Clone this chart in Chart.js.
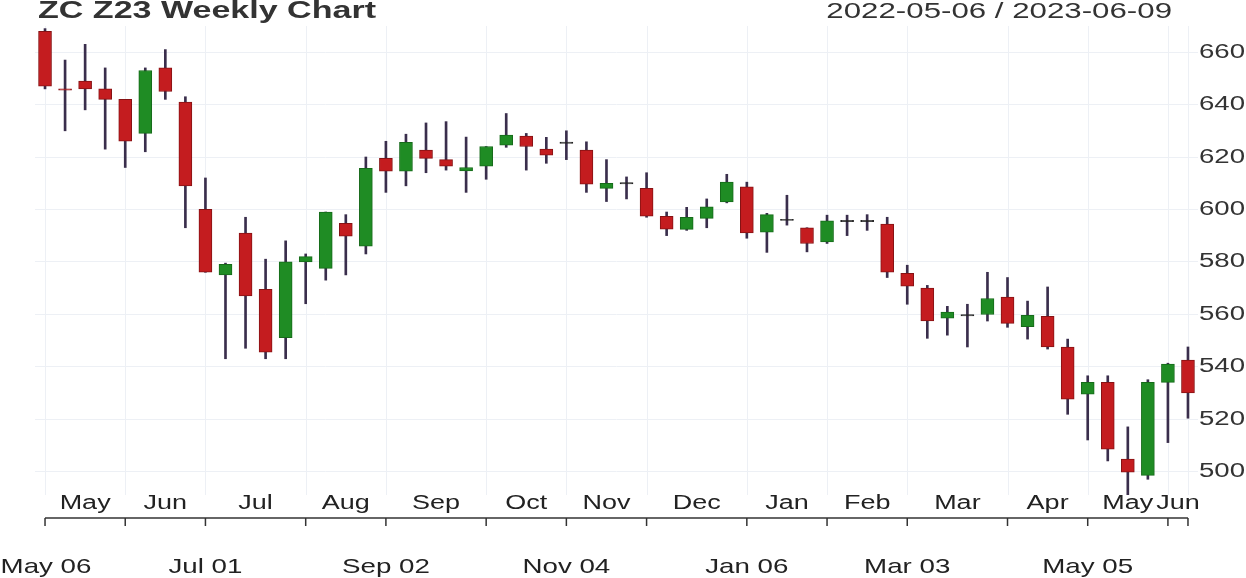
<!DOCTYPE html>
<html><head><meta charset="utf-8">
<script src="https://cdn.jsdelivr.net/npm/chart.js@4"></script>
<style>html,body{margin:0;padding:0;background:#fff}#w{width:1246px;height:578px}</style>
</head><body><div id="w"><canvas id="c"></canvas></div>
<script>
const openV =[668,646,649,646,642,629,654,641,600,575,591,569.5,551,580,577.5,594.7,586,619.5,614.6,622.6,619,614.7,616.5,624.5,628,623,625.4,622.6,608,610,608,597.4,592.4,596.6,602.9,608.6,591.3,596,593,587.6,595.6,595.6,594.4,575.6,570,558.5,559.6,559.9,566.5,555.2,559.2,547.5,529.5,534,504.7,498.5,534,542.5];
const highV =[669,657,663,654,642,654,661,643,612,579.5,597,581,588,583,599,598,620,626,628.7,633,633.5,627.6,624,636.6,629,627.5,630,625.8,619,612.4,614,599,600.8,604,613.4,610.4,598.5,605.4,593,597.8,597.8,598,597,578.7,571,563,563.8,576,574,565,570.4,550.5,536.5,536.5,517,535,541.3,547.5];
const lowV  =[646,630,638,623,616,622,642,593,576,543,547,543,543,564,573,575,583,606.5,609,614,615,606.5,611.5,623.7,615,617.6,619,606.5,603,604,597,590,592,593,602.5,589,583.6,594,583.8,587,590,592,574,563.8,550.8,552,547.5,557.4,555,550.5,546.7,521.8,512,504,491,497,511,520.3];
const closeV=[647,645.5,646,642,626,653,645,609,576,579,567,545.5,580,582,599,589.8,615.7,614.6,625.6,619.5,616.5,616,624,628.4,624,620.7,625.4,609.6,610,610,597.4,592.5,597,601,610.4,591,598,596,587,595.6,595.6,595.6,576,570.7,557.4,560.8,559.6,566,556.5,559.6,547.5,527.6,534,508.5,499.7,534,541,530];
const yTicks=[500,520,540,560,580,600,620,640,660];
const monthTickIdx=[0,4,8,13,17,22,26,30,35,39,43,48,52,56,57];
const monthNames=["May","Jun","Jul","Aug","Sep","Oct","Nov","Dec","Jan","Feb","Mar","Apr","May","Jun"];
const dateLabels=["May 06","Jul 01","Sep 02","Nov 04","Jan 06","Mar 03","May 05"];
const dateIdx=[0,8,17,26,35,43,52];
const labels=[];{const d=new Date(Date.UTC(2022,4,6));for(let i=0;i<openV.length;i++){labels.push(d.toISOString().slice(0,10));d.setUTCDate(d.getUTCDate()+7);}}

const isDoji=openV.map((o,i)=>Math.abs(o-closeV[i])<0.3);
const bodies=openV.map((o,i)=>isDoji[i]?[o-0.25,o+0.25]:[o,closeV[i]]);
const wicks=lowV.map((l,i)=>[l,highV[i]]);
const fill=openV.map((o,i)=>isDoji[i]?'#222':(closeV[i]>o?'#1f8c24':'#c41c1f'));
const border=openV.map((o,i)=>isDoji[i]?'#222':(closeV[i]>o?'#166a1a':'#861214'));

const FONT='"Liberation Sans", Arial, sans-serif';
function sText(ctx,t,x,y,align,sx){const w=ctx.measureText(t).width*sx;let l=x;if(align==='center')l=x-w/2;else if(align==='right')l=x-w;
 ctx.save();ctx.translate(l,y);ctx.scale(sx,1);ctx.textAlign='left';ctx.fillText(t,0,0);ctx.restore();}
const deco={id:'deco',
 beforeDatasetsDraw(ch){const {ctx,chartArea:a,scales:{x}}=ch;ctx.save();ctx.strokeStyle='#edf0f5';ctx.lineWidth=1;
  monthTickIdx.forEach(i=>{const px=Math.round(x.getPixelForValue(i))+0.5;ctx.beginPath();ctx.moveTo(px,a.top);ctx.lineTo(px,a.bottom);ctx.stroke();});ctx.restore();},
 afterDraw(ch){const {ctx,scales:{x,y}}=ch;ctx.save();
  ctx.fillStyle='#333';ctx.textBaseline='alphabetic';
  ctx.font='bold 23px '+FONT;sText(ctx,'ZC Z23 Weekly Chart',38,18,'left',1.48);
  ctx.font='22px '+FONT;sText(ctx,'2022-05-06 / 2023-06-09',1172,18,'right',1.42);
  ctx.textBaseline='middle';ctx.font='20px '+FONT;
  yTicks.forEach(v=>sText(ctx,String(v),1199,y.getPixelForValue(v),'left',1.38));
  const ly=518;ctx.strokeStyle='#333';ctx.lineWidth=1.5;
  const xs=monthTickIdx.map(i=>x.getPixelForValue(i));
  ctx.beginPath();ctx.moveTo(xs[0],ly);ctx.lineTo(xs[xs.length-1],ly);ctx.stroke();
  xs.forEach(px=>{ctx.beginPath();ctx.moveTo(px,ly);ctx.lineTo(px,ly+8);ctx.stroke();});
  ctx.fillStyle='#222';ctx.font='20px '+FONT;
  monthNames.forEach((m,k)=>sText(ctx,m,(xs[k]+xs[k+1])/2,503,'center',1.35));
  ctx.font='21px '+FONT;
  dateLabels.forEach((t,k)=>sText(ctx,t,Math.max(x.getPixelForValue(dateIdx[k]),46),567,'center',1.32));
  ctx.restore();}};

new Chart(document.getElementById('c'),{type:'bar',
 data:{labels,datasets:[
  {data:wicks,backgroundColor:'#3a2e4c',barThickness:2,grouped:false,order:2},
  {data:bodies,backgroundColor:fill,borderColor:border,borderWidth:1,borderSkipped:false,barThickness:13,grouped:false,order:1}]},
 options:{responsive:true,maintainAspectRatio:false,animation:false,
  layout:{padding:{top:26,bottom:83,left:35,right:0}},
  plugins:{legend:{display:false},tooltip:{enabled:false}},
  scales:{x:{display:false,offset:true},
   y:{position:'right',min:491,max:670,
    afterBuildTicks(s){s.ticks=yTicks.map(v=>({value:v}));},
    afterFit(s){s.width=48;},
    grid:{color:'#edf0f5',drawTicks:false},border:{display:false},
    ticks:{display:false}}}},
 plugins:[deco]});
</script></body></html>
